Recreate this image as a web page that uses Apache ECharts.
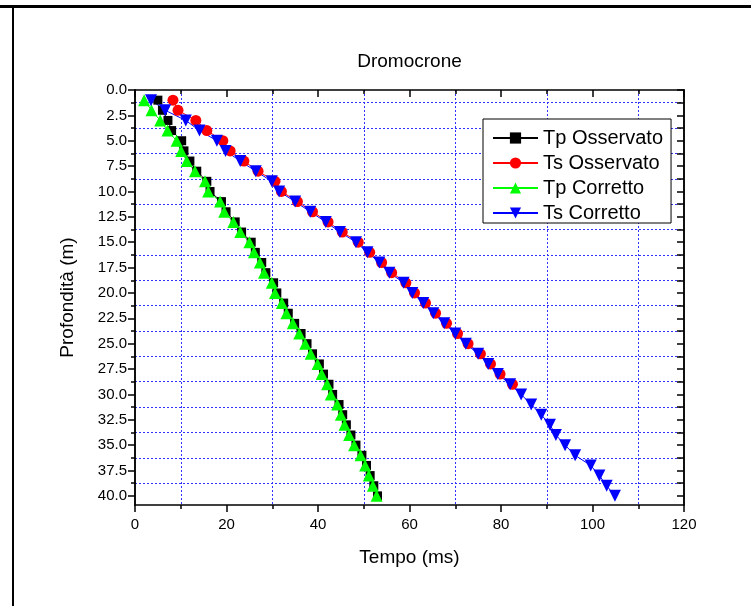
<!DOCTYPE html>
<html>
<head>
<meta charset="utf-8">
<title>Dromocrone</title>
<script src="https://cdn.jsdelivr.net/npm/echarts@6/dist/echarts.min.js"></script>
<style>
  html, body { margin: 0; padding: 0; background: #ffffff; }
  #chart { width: 751px; height: 606px; }
</style>
</head>
<body>
<div id="chart"></div>
<script>
// Depth of each geophone (m)
const depth = [1, 2, 3, 4, 5, 6, 7, 8, 9, 10, 11, 12, 13, 14, 15, 16, 17, 18, 19, 20,
               21, 22, 23, 24, 25, 26, 27, 28, 29, 30, 31, 32, 33, 34, 35, 36, 37, 38, 39, 40];

// First-arrival times (ms)
const tpOsservato = [5.0, 6.0, 7.2, 8.0, 10.2, 10.7, 12.0, 13.5, 15.7, 16.4,
                     18.9, 19.9, 21.9, 23.3, 25.4, 26.3, 27.7, 28.6, 30.3, 31.0,
                     32.5, 33.5, 34.9, 36.3, 37.6, 38.8, 40.3, 41.2, 42.4, 43.2,
                     44.6, 45.4, 46.2, 47.2, 48.3, 49.6, 50.6, 51.4, 52.2, 53.0];
const tsOsservato = [8.3, 9.4, 13.3, 15.7, 19.2, 20.8, 23.8, 26.9, 30.6, 32.0,
                     35.5, 38.8, 42.2, 45.3, 48.8, 51.3, 53.9, 56.1, 59.2, 61.1,
                     63.5, 65.7, 68.1, 70.5, 72.8, 75.5, 77.7, 79.8, 82.5];
const tpCorretto = [2.0, 3.6, 5.5, 7.1, 9.1, 10.1, 11.3, 13.1, 15.3, 16.0,
                    18.6, 19.5, 21.5, 23.0, 25.0, 26.0, 27.3, 28.2, 29.9, 30.6,
                    32.1, 33.1, 34.5, 35.9, 37.2, 38.4, 39.9, 40.8, 42.0, 42.8,
                    44.2, 45.0, 45.8, 46.8, 47.9, 49.3, 50.3, 51.1, 52.0, 52.8];
const tsCorretto = [3.5, 6.6, 11.1, 14.1, 17.9, 19.8, 23.0, 26.4, 29.9, 31.5,
                    35.0, 38.3, 41.7, 44.8, 48.3, 50.8, 53.4, 55.6, 58.7, 60.6,
                    63.0, 65.2, 67.6, 70.0, 72.3, 75.0, 77.2, 79.3, 82.0, 84.4,
                    86.6, 88.8, 90.7, 92.0, 94.0, 96.2, 99.6, 101.5, 103.1, 104.9];

const seriesNames = ['Tp Osservato', 'Ts Osservato', 'Tp Corretto', 'Ts Corretto'];

// Depth axis ticks
const yMajorTicks = [0, 2.5, 5, 7.5, 10, 12.5, 15, 17.5, 20, 22.5, 25, 27.5, 30, 32.5, 35, 37.5, 40];
const yMinorTicks = [1.25, 3.75, 6.25, 8.75, 11.25, 13.75, 16.25, 18.75, 21.25, 23.75,
                     26.25, 28.75, 31.25, 33.75, 36.25, 38.75];

const FONT = '"Liberation Sans", Arial, Helvetica, sans-serif';
const GRID_BLUE = '#3030ff';

function pairs(times) {
  return times.map((t, i) => [t, depth[i]]);
}

const X_MIN = 0, X_MAX = 120, X_STEP = 20;
const Y_MIN = 0, Y_MAX = 40.9;

function xAxisBase(pos, inside) {
  return {
    type: 'value', position: pos, min: X_MIN, max: X_MAX, interval: X_STEP,
    axisLine: { show: true, onZero: false, lineStyle: { color: '#000', width: 1.5 } },
    axisTick: { show: true, inside: inside, length: 7, lineStyle: { color: '#000', width: 1.5 } },
    minorTick: { show: true, splitNumber: 2, length: 4, lineStyle: { color: '#000', width: 1.5 } },
    splitLine: { show: false }
  };
}

function yAxisBase(pos, inside, ticks, len) {
  return {
    type: 'value', position: pos, inverse: true, min: Y_MIN, max: Y_MAX,
    axisLine: { show: true, onZero: false, lineStyle: { color: '#000', width: 1.5 } },
    axisTick: { show: true, inside: inside, length: len, customValues: ticks,
                lineStyle: { color: '#000', width: 1.5 } },
    axisLabel: { show: false },
    splitLine: { show: false }
  };
}

const bottomX = xAxisBase('bottom', false);
bottomX.axisLabel = { show: true, color: '#000', fontSize: 15, fontFamily: FONT, margin: 12 };
bottomX.minorSplitLine = { show: true, lineStyle: { color: GRID_BLUE, width: 1, type: [2, 2] } };
bottomX.name = 'Tempo (ms)';
bottomX.nameLocation = 'middle';
bottomX.nameGap = 43;
bottomX.nameTextStyle = { color: '#000', fontSize: 19, fontFamily: FONT };

const topX = xAxisBase('top', true);
topX.axisLabel = { show: false };

const leftMajor = yAxisBase('left', false, yMajorTicks, 7);
leftMajor.axisLabel = { show: true, customValues: yMajorTicks, color: '#000', fontSize: 15,
                        fontFamily: FONT, margin: 8, formatter: v => Number(v).toFixed(1) };
leftMajor.name = 'Profondità (m)';
leftMajor.nameLocation = 'middle';
leftMajor.nameGap = 58;
leftMajor.nameTextStyle = { color: '#000', fontSize: 19, fontFamily: FONT };

const leftMinor = yAxisBase('left', false, yMinorTicks, 4);
leftMinor.splitLine = { show: true, lineStyle: { color: GRID_BLUE, width: 1, type: [2, 2] } };

const rightMajor = yAxisBase('right', true, yMajorTicks, 7);
const rightMinor = yAxisBase('right', true, yMinorTicks, 7);

function lineSeries(name, times, color, symbol, size, rotate) {
  return {
    name: name, type: 'line', xAxisIndex: 0, yAxisIndex: 0,
    data: pairs(times),
    symbol: symbol, symbolSize: size, symbolRotate: rotate || 0,
    showAllSymbol: true,
    lineStyle: { color: color, width: 1 },
    itemStyle: { color: color, borderWidth: 0 },
    emphasis: { disabled: true },
    animation: false
  };
}

const chart = echarts.init(document.getElementById('chart'), null, { renderer: 'canvas' });
chart.setOption({
  animation: false,
  backgroundColor: '#ffffff',
  textStyle: { fontFamily: FONT },
  grid: { left: 135, top: 90, width: 549, height: 415, containLabel: false },
  xAxis: [bottomX, topX],
  yAxis: [leftMajor, leftMinor, rightMajor, rightMinor],
  legend: {
    data: seriesNames,
    orient: 'vertical',
    left: 483, top: 119,
    padding: [9, 8, 0, 9],
    itemWidth: 45, itemHeight: 14, itemGap: 5,
    backgroundColor: '#ffffff',
    borderColor: '#000', borderWidth: 1, borderRadius: 0,
    selectedMode: false,
    textStyle: { color: '#000', fontSize: 20, lineHeight: 19, fontFamily: FONT }
  },
  series: [
    lineSeries(seriesNames[0], tpOsservato, '#000000', 'rect', 9),
    lineSeries(seriesNames[1], tsOsservato, '#ff0000', 'circle', 11),
    lineSeries(seriesNames[2], tpCorretto, '#00ff00', 'triangle', 12),
    lineSeries(seriesNames[3], tsCorretto, '#0000ff', 'triangle', 12, 180)
  ],
  graphic: [
    { type: 'rect', silent: true, shape: { x: 0, y: 5, width: 751, height: 3 }, style: { fill: '#000' } },
    { type: 'rect', silent: true, shape: { x: 12, y: 5, width: 2, height: 601 }, style: { fill: '#000' } },
    { type: 'text', silent: true, x: 409.5, y: 62,
      style: { text: 'Dromocrone', fill: '#000', font: '19px ' + FONT, align: 'center', verticalAlign: 'middle' } }
  ]
});
</script>
</body>
</html>
